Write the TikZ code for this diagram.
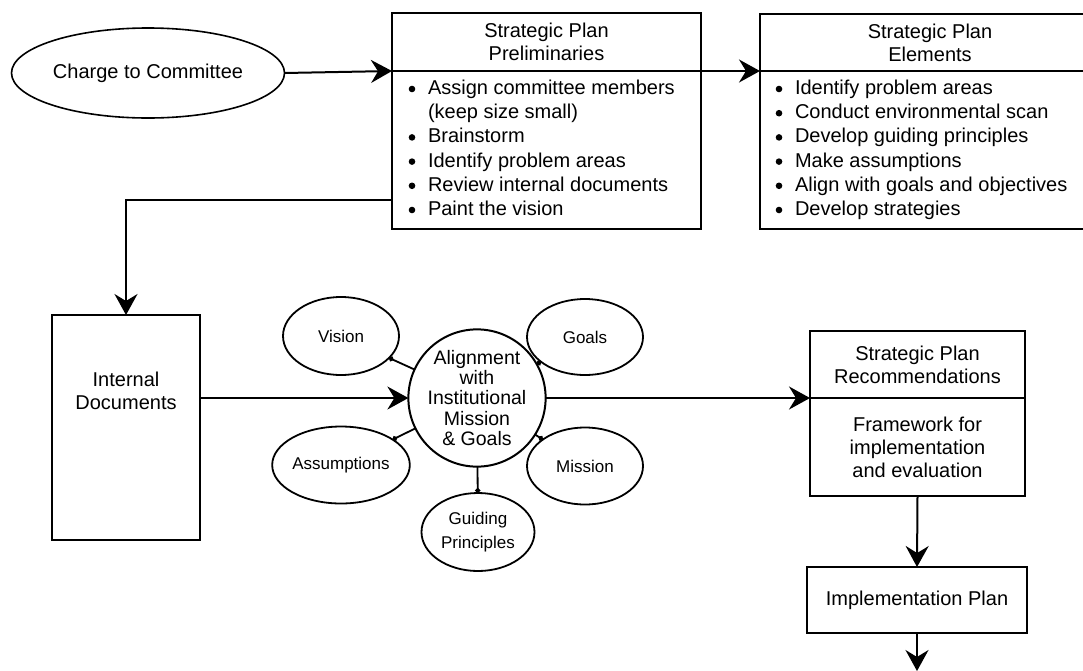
\documentclass[tikz,border=0pt]{standalone}
\usepackage{fontspec}
\setmainfont{Liberation Sans}
\usetikzlibrary{arrows.meta,shapes.geometric}
\begin{document}
\begin{tikzpicture}[x=1pt,y=-1pt,
  every node/.style={inner sep=0pt, outer sep=0pt},
  box/.style={draw, line width=2pt, rectangle},
  oval/.style={draw, line width=1.8pt, ellipse},
  arr/.style={line width=2pt, -{Stealth[length=21pt,width=23pt,inset=7pt]}},
  link/.style={line width=1.8pt, {Circle[length=5pt]}-},
  big/.style={font=\fontsize{20}{23}\selectfont},
  list/.style={font=\fontsize{20}{24.2}\selectfont, align=left, anchor=north west},
  small/.style={font=\fontsize{17}{23}\selectfont},
  dot/.style={fill=black},
]
\useasboundingbox[fill=white] (0,0) rectangle (1083,670);

% Charge
\node[oval, line width=1.6pt, minimum width=273pt, minimum height=90pt, big] (charge) at (148,73) {Charge to Committee};

% Preliminaries
\node[box, minimum width=309pt, minimum height=58pt, big, align=center] (prelimT) at (546.5,42) {Strategic Plan\\Preliminaries};
\node[box, minimum width=309pt, minimum height=158pt, anchor=north] (prelimB) at (prelimT.south) {};
\node[list] (prelimL) at (428,80) {Assign committee members\\(keep size small)\\Brainstorm\\Identify problem areas\\Review internal documents\\Paint the vision};
\foreach \k in {0,2,3,4,5} \fill[dot] (412,{89+24.2*\k}) circle (3.3pt);

% Elements
\node[box, minimum width=340pt, minimum height=57pt, big, align=center] (elemT) at (930,42.5) {Strategic Plan\\Elements};
\node[box, minimum width=340pt, minimum height=158pt, anchor=north] (elemB) at (elemT.south) {};
\node[list] (elemL) at (795,80) {Identify problem areas\\Conduct environmental scan\\Develop guiding principles\\Make assumptions\\Align with goals and objectives\\Develop strategies};
\foreach \k in {0,...,5} \fill[dot] (779,{89+24.2*\k}) circle (3.3pt);

\draw[arr] (charge.east) -- (prelimT.south west);
\draw[arr] (prelimT.south east) -- (elemT.south west);

% Internal documents
\node[box, minimum width=148pt, minimum height=225pt] (intdoc) at (126,427.5) {};
\node[big, align=center] (intdocT) at (126,391) {Internal\\Documents};
\coordinate (tap) at (392,200);
\draw[arr] (tap) -| (intdoc.north);

% Alignment circle
\node[draw, circle, line width=2pt, minimum size=134pt, align=center, font=\fontsize{19.5}{20.3}\selectfont] (align) at (477,398) {Alignment\\with\\Institutional\\Mission\\\& Goals};
\draw[arr] (intdoc.east |- align) -- (align.west);

% Satellites
\node[oval, minimum width=116pt, minimum height=78pt, small] (vision) at (341,336) {Vision};
\node[oval, minimum width=116pt, minimum height=76pt, small] (goals) at (585,337) {Goals};
\node[oval, minimum width=115pt, minimum height=77pt, small] (assump) at (341,465) {Assumptions};
\node[oval, minimum width=116pt, minimum height=77pt, small] (mission) at (585,466) {Mission};
\node[oval, minimum width=113pt, minimum height=78pt, small, align=center, font=\fontsize{17}{24}\selectfont] (guiding) at (478,532) {Guiding\\Principles};
\draw[link] (vision) -- (align);
\draw[link] (goals) -- (align);
\draw[link] (assump) -- (align);
\draw[link] (mission) -- (align);
\draw[link] (guiding) -- (align);

% Recommendations
\node[box, minimum width=215pt, minimum height=67pt, big, align=center] (recT) at (917.5,364.5) {Strategic Plan\\Recommendations};
\node[box, minimum width=215pt, minimum height=98pt, anchor=north, big, align=center] (recB) at (recT.south) {Framework for\\implementation\\and evaluation};
\draw[arr] (align.east) -- (recT.south west);

% Implementation
\node[box, minimum width=220pt, minimum height=66pt, big] (impl) at (917,600) {Implementation Plan};
\draw[arr] (recB.south) -- (impl.north);
\coordinate (exit) at (917,671);
\draw[arr] (impl.south) -- (exit);
\end{tikzpicture}
\end{document}
